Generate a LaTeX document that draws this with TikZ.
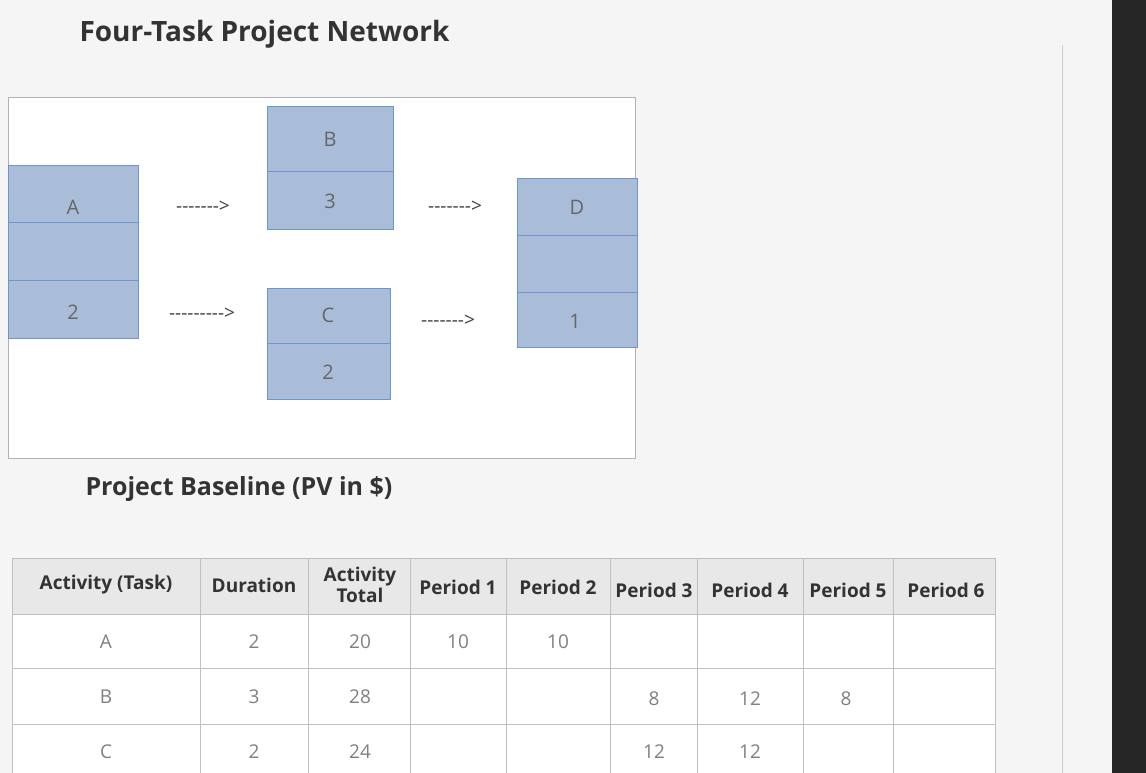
\documentclass[tikz,border=0pt]{standalone}
\usepackage{fontspec}
\setmainfont{Open Sans}
\definecolor{cfill}{HTML}{A9BDD9}
\definecolor{cline}{HTML}{6E95D2}
\begin{document}
\begin{tikzpicture}[x=1pt,y=-1pt,
  cell/.style={draw=cline, fill=cfill, line width=0.8pt},
  ctext/.style={text=gray!80!black, font=\fontsize{20}{23}\selectfont},
  atext/.style={text=black!75, font=\fontsize{19}{22}\selectfont},
  tcell/.style={draw=gray!50, line width=0.6pt},
  htext/.style={font=\fontsize{19}{21}\selectfont\bfseries, text=black!80, align=center},
  dtext/.style={font=\fontsize{19}{21}\selectfont, text=gray}]
\useasboundingbox (0,0) rectangle (1146,773);
\fill[gray!8] (0,0) rectangle (1146,773);
\fill[black!85] (1112,0) rectangle (1146,773);
\draw[gray!40] (1062,45) -- (1062,773);
\node[font=\fontsize{28}{32}\selectfont\bfseries, text=black!80, anchor=west] (title) at (76,34) {Four-Task Project Network};
\draw[gray!60, fill=white] (8,97) rectangle (635,458);
% A
\draw[cell] (8,165) rectangle (138,222); \draw[cell] (8,222) rectangle (138,280); \draw[cell] (8,280) rectangle (138,338);
\node[ctext] (a1) at (73,207) {A}; \node[ctext] (a3) at (73,312) {2};
% B
\draw[cell] (267,106) rectangle (393,171); \draw[cell] (267,171) rectangle (393,229);
\node[ctext] (b1) at (330,139) {B}; \node[ctext] (b2) at (330,201) {3};
% C
\draw[cell] (267,288) rectangle (390,343); \draw[cell] (267,343) rectangle (390,399);
\node[ctext] (c1) at (328,315) {C}; \node[ctext] (c2) at (328,372) {2};
% D
\draw[cell] (517,178) rectangle (637,235); \draw[cell] (517,235) rectangle (637,292); \draw[cell] (517,292) rectangle (637,347);
\node[ctext] (d1) at (577,207) {D}; \node[ctext] (d3) at (575,321) {1};
\node[atext] (ar1) at (203,207) {{-}{-}{-}{-}{-}{-}{-}{\textgreater}};
\node[atext] (ar2) at (202,314) {{-}{-}{-}{-}{-}{-}{-}{-}{-}{\textgreater}};
\node[atext] (ar3) at (455,207) {{-}{-}{-}{-}{-}{-}{-}{\textgreater}};
\node[atext] (ar4) at (448,321) {{-}{-}{-}{-}{-}{-}{-}{\textgreater}};
\node[font=\fontsize{25}{28}\selectfont\bfseries, text=black!80, anchor=west] (pb) at (82,489) {Project Baseline (PV in \$)};
% table
\fill[gray!18] (12,558) rectangle (995,614);
\fill[white] (12,614) rectangle (995,773);
\foreach \y in {558,614,668,724} \draw[tcell] (12,\y) -- (995,\y);
\foreach \x in {12,200,308,410,506,610,697,803,893,995} \draw[tcell] (\x,558) -- (\x,773);
\node[htext] (h1) at (106,585) {Activity (Task)};
\node[htext] (h2) at (254,585) {Duration};
\node[htext] (h3) at (360,585) {Activity\\Total};
\node[htext] (h4) at (458,587) {Period 1};
\node[htext] (h5) at (558,587) {Period 2};
\node[htext] (h6) at (654,590) {Period 3};
\node[htext] (h7) at (750,590) {Period 4};
\node[htext] (h8) at (848,590) {Period 5};
\node[htext] (h9) at (946,590) {Period 6};
\node[dtext] at (106,642) {A}; \node[dtext] at (254,642) {2}; \node[dtext] at (360,642) {20};
\node[dtext] at (458,642) {10}; \node[dtext] at (558,642) {10};
\node[dtext] at (106,697) {B}; \node[dtext] at (254,697) {3}; \node[dtext] at (360,697) {28};
\node[dtext] at (654,699) {8}; \node[dtext] at (750,699) {12}; \node[dtext] at (846,699) {8};
\node[dtext] at (106,752) {C}; \node[dtext] at (254,752) {2}; \node[dtext] at (360,752) {24};
\node[dtext] at (654,752) {12}; \node[dtext] at (750,752) {12};
\end{tikzpicture}
\end{document}
